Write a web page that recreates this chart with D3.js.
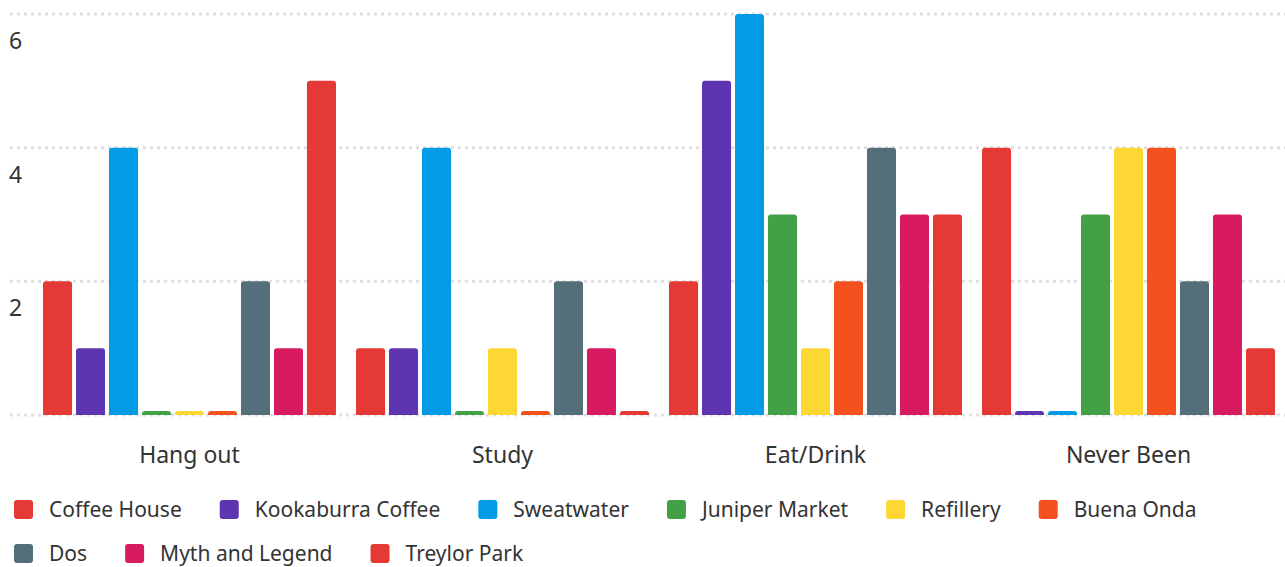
<!DOCTYPE html>
<html>
<head>
<meta charset="utf-8">
<script src="https://cdn.jsdelivr.net/npm/d3@7"></script>
<style>
  html, body { margin: 0; padding: 0; background: #fff; }
  svg { display: block; font-family: "Noto Sans", "Open Sans", sans-serif; }
</style>
</head>
<body>
<div id="chart"></div>
<script>
// data
const categories = ["Hang out", "Study", "Eat/Drink", "Never Been"];
const seriesNames = ["Coffee House", "Kookaburra Coffee", "Sweatwater", "Juniper Market",
    "Refillery", "Buena Onda", "Dos", "Myth and Legend", "Treylor Park"];
const seriesColors = ["#e53935", "#5e35b1", "#039be5", "#43a047", "#fdd835",
    "#f4511e", "#546e7a", "#d81b60", "#e53935"];
// one row per series, one value per category
const seriesValues = [
    [2, 1, 2, 4],
    [1, 1, 5, 0],
    [4, 4, 6, 0],
    [0, 0, 3, 3],
    [0, 1, 1, 4],
    [0, 0, 2, 4],
    [2, 2, 4, 2],
    [1, 1, 3, 3],
    [5, 0, 3, 1]
];
const yTicks = [0, 2, 4, 6];

const W = 1285, H = 567;
const m = { top: 14, left: 33, right: 0, bottom: 152 };

const svg = d3.select("#chart").append("svg")
    .attr("width", W)
    .attr("height", H);

const x0 = d3.scaleBand()
    .domain(categories)
    .range([m.left, W - m.right])
    .paddingInner(0.064)
    .paddingOuter(0.032);

const x1 = d3.scaleBand()
    .domain(seriesNames)
    .range([0, x0.bandwidth()])
    .paddingInner(0.12)
    .paddingOuter(0);

const y = d3.scaleLinear()
    .domain([0, 6])
    .range([H - m.bottom, m.top]);

// grid lines (dotted)
svg.append("g").selectAll("line")
    .data(yTicks)
    .join("line")
    .attr("x1", 10)
    .attr("x2", W)
    .attr("y1", d => y(d))
    .attr("y2", d => y(d))
    .attr("stroke", "#e0e0e0")
    .attr("stroke-width", 3)
    .attr("stroke-dasharray", "3,4");

// y labels sit just under their grid line
svg.append("g").selectAll("text")
    .data(yTicks.filter(d => d > 0))
    .join("text")
    .attr("x", 9)
    .attr("y", d => y(d) + 35)
    .attr("fill", "#333")
    .style("font-size", "23px")
    .text(d => d);

// rounded-top bar path
const barPath = (x, yTop, w, h, r) => {
    r = Math.min(r, h, w / 2);
    const yb = yTop + h;
    return "M" + x + "," + yb +
        "V" + (yTop + r) +
        "Q" + x + "," + yTop + " " + (x + r) + "," + yTop +
        "H" + (x + w - r) +
        "Q" + (x + w) + "," + yTop + " " + (x + w) + "," + (yTop + r) +
        "V" + yb + "Z";
};

const rows = [];
categories.forEach((c, ci) => {
    seriesNames.forEach((s, si) => {
        rows.push({ cat: c, name: s, value: seriesValues[si][ci], color: seriesColors[si] });
    });
});

const minLen = 4;
svg.append("g").selectAll("path")
    .data(rows)
    .join("path")
    .attr("fill", d => d.color)
    .attr("d", d => {
        const bx = x0(d.cat) + x1(d.name);
        let h = y(0) - y(d.value);
        if (h < minLen) h = minLen;
        return barPath(bx, y(0) - h, x1.bandwidth(), h, 3);
    });

// category labels
svg.append("g").selectAll("text")
    .data(categories)
    .join("text")
    .attr("x", d => x0(d) + x0.bandwidth() / 2)
    .attr("y", 463)
    .attr("text-anchor", "middle")
    .attr("fill", "#333")
    .style("font-size", "23px")
    .text(d => d);

// legend, flowing rows
const legend = svg.append("g");
let lx = 14, ly = 509;
seriesNames.forEach((name, i) => {
    const g = legend.append("g");
    const t = g.append("text")
        .attr("x", 35)
        .attr("y", 8)
        .attr("fill", "#333")
        .style("font-size", "21px")
        .text(name);
    const tw = t.node().getComputedTextLength();
    const itemW = 35 + tw + 38;
    if (lx + itemW - 38 > W && lx > 14) {
        lx = 14;
        ly += 44;
    }
    g.attr("transform", "translate(" + lx + "," + ly + ")");
    g.insert("rect", "text")
        .attr("x", 0)
        .attr("y", -9)
        .attr("width", 19)
        .attr("height", 19)
        .attr("rx", 3)
        .attr("fill", seriesColors[i]);
    lx += itemW;
});
</script>
</body>
</html>
